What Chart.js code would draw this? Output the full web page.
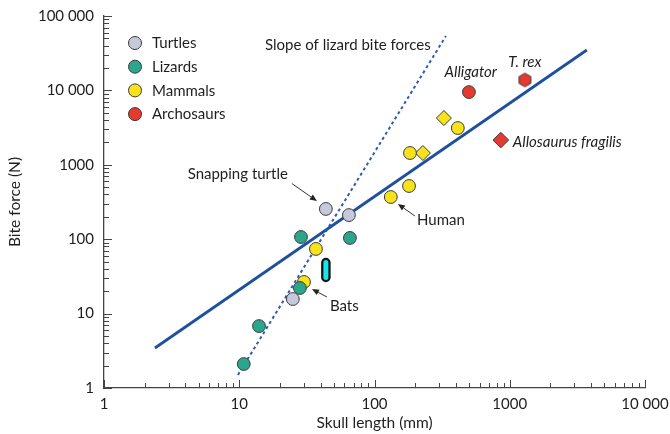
<!DOCTYPE html>
<html>
<head>
<meta charset="utf-8">
<script src="https://cdn.jsdelivr.net/npm/chart.js@4.4.1/dist/chart.umd.min.js"></script>
<style>
  html, body { margin: 0; padding: 0; background: #fff; }
  #wrap { width: 670px; height: 434px; position: relative; }
</style>
</head>
<body>
<div id="wrap"><canvas id="c"></canvas></div>
<script>
// Bite force (N) against skull length (mm), log–log.
const turtleSkull = [43.7, 64.7, 24.9];
const turtleForce = [255, 211, 15.7];

const lizardSkull = [28.6, 65.8, 28.1, 14.0, 10.8];
const lizardForce = [107, 104, 22.1, 6.8, 2.1];

const mammalSkull = [36.9, 30.1, 132, 180, 183, 413];
const mammalForce = [74, 26.6, 369, 519, 1440, 3120];

const mammalDiamondSkull = [228, 326];
const mammalDiamondForce = [1440, 4250];

const alligatorSkull = [499];
const alligatorForce = [9500];

const trexSkull = [1294];
const trexForce = [13800];

const allosaurusSkull = [859];
const allosaurusForce = [2150];

// range of bat bite forces
const batSkull = [43.7, 43.7];
const batForce = [48.6, 30.6];

// overall regression and the steeper lizard slope
const fitSkull = [2.38, 3715];
const fitForce = [3.45, 34900];
const lizardSlopeSkull = [9.78, 337];
const lizardSlopeForce = [1.5, 53800];

const xTickValues = [1, 10, 100, 1000, 10000];
const xTickLabels = ['1', '10', '100', '1000', '10 000'];
const yTickValues = [1, 10, 100, 1000, 10000, 100000];
const yTickLabels = ['1', '10', '100', '1000', '10 000', '100 000'];

const groupNames = ['Turtles', 'Lizards', 'Mammals', 'Archosaurs'];
const groupColors = ['#c6c8dc', '#2ba58b', '#f7e21c', '#e43a2f'];

const FONT = 'Lato, "Open Sans", sans-serif';
const INK = '#1e1e1e';
const EDGE = '#3a3a3a';

const pts = (xs, ys) => xs.map((x, i) => ({ x: x, y: ys[i] }));

// hexagon marker for T. rex
function hexagon(r, fill) {
  const size = Math.ceil(r * 2 + 3);
  const cv = document.createElement('canvas');
  cv.width = size; cv.height = size;
  const g = cv.getContext('2d');
  const c = size / 2;
  g.beginPath();
  for (let k = 0; k < 6; k++) {
    const a = Math.PI / 2 + k * Math.PI / 3;
    const px = c + r * Math.cos(a), py = c - r * Math.sin(a);
    if (k === 0) g.moveTo(px, py); else g.lineTo(px, py);
  }
  g.closePath();
  g.fillStyle = fill; g.fill();
  g.lineWidth = 1; g.strokeStyle = EDGE; g.stroke();
  return cv;
}

function marker(color, style, radius) {
  return {
    backgroundColor: color, borderColor: EDGE, borderWidth: 1,
    pointStyle: style, pointRadius: radius, pointHoverRadius: radius,
    showLine: false
  };
}

const datasets = [
  Object.assign({ label: 'Turtles', data: pts(turtleSkull, turtleForce) }, marker(groupColors[0], 'circle', 6.4)),
  Object.assign({ label: 'Lizards', data: pts(lizardSkull, lizardForce) }, marker(groupColors[1], 'circle', 6.4)),
  Object.assign({ label: 'Mammals', data: pts(mammalSkull, mammalForce) }, marker(groupColors[2], 'circle', 6.4)),
  Object.assign({ label: 'Mammals (diamond)', data: pts(mammalDiamondSkull, mammalDiamondForce) }, marker(groupColors[2], 'rectRot', 7.5)),
  Object.assign({ label: 'Alligator', data: pts(alligatorSkull, alligatorForce) }, marker(groupColors[3], 'circle', 6.4)),
  Object.assign({ label: 'Allosaurus fragilis', data: pts(allosaurusSkull, allosaurusForce) }, marker(groupColors[3], 'rectRot', 7.8)),
  Object.assign({ label: 'T. rex', data: pts(trexSkull, trexForce) }, marker(groupColors[3], hexagon(6.8, groupColors[3]), 7)),
  {
    label: 'Bats (fill)', data: pts(batSkull, batForce), showLine: true,
    borderColor: '#14e6f0', borderWidth: 5, borderCapStyle: 'round', pointRadius: 0
  },
  {
    label: 'Bats', data: pts(batSkull, batForce), showLine: true,
    borderColor: '#111', borderWidth: 9.5, borderCapStyle: 'round', pointRadius: 0
  },
  {
    label: 'Slope of lizard bite forces', data: pts(lizardSlopeSkull, lizardSlopeForce), showLine: true,
    borderColor: '#2a5db0', borderWidth: 2, borderDash: [3, 3], pointRadius: 0
  },
  {
    label: 'All species', data: pts(fitSkull, fitForce), showLine: true,
    borderColor: '#1f4f9f', borderWidth: 2.8, pointRadius: 0
  }
];

// text labels and pointer arrows, placed in data coordinates
const notes = [
  { text: 'Slope of lizard bite forces', x: 15.5, y: 40700, align: 'left', italic: false },
  { text: 'Alligator', x: 515, y: 17700, align: 'center', italic: true },
  { text: 'T. rex', x: 1294, y: 24100, align: 'center', italic: true },
  { text: 'Allosaurus fragilis', x: 1054, y: 2025, align: 'left', italic: true },
  { text: 'Snapping turtle', x: 22.9, y: 752, align: 'right', italic: false },
  { text: 'Human', x: 206, y: 181, align: 'left', italic: false },
  { text: 'Bats', x: 46.8, y: 12.6, align: 'left', italic: false }
];
const pointers = [
  { from: [24.5, 560], to: [37.5, 326] },
  { from: [199, 205], to: [149, 297] },
  { from: [44.5, 16.7], to: [34.5, 21.4] }
];

const decor = {
  id: 'decor',
  afterDraw(chart) {
    const ctx = chart.ctx;
    const xs = chart.scales.x, ys = chart.scales.y;
    const area = chart.chartArea;
    ctx.save();

    // inward tick marks, majors at each decade and minors between
    ctx.strokeStyle = '#444';
    ctx.lineWidth = 1;
    ctx.beginPath();
    for (let d = 0; d < 5; d++) {
      for (let m = 1; m <= 9; m++) {
        const v = m * Math.pow(10, d);
        const len = m === 1 ? 8 : 5;
        const px = Math.round(xs.getPixelForValue(v)) + 0.5;
        ctx.moveTo(px, area.bottom);
        ctx.lineTo(px, area.bottom - len);
      }
    }
    const px10k = Math.round(xs.getPixelForValue(10000)) + 0.5;
    ctx.moveTo(px10k, area.bottom); ctx.lineTo(px10k, area.bottom - 8);
    for (let d = 0; d < 6; d++) {
      for (let m = 1; m <= 9; m++) {
        const v = m * Math.pow(10, d);
        if (v > 100000) break;
        const len = m === 1 ? 8 : 5;
        const py = Math.round(ys.getPixelForValue(v)) + 0.5;
        ctx.moveTo(area.left, py);
        ctx.lineTo(area.left + len, py);
      }
    }
    const py100k = Math.round(ys.getPixelForValue(100000)) + 0.5;
    ctx.moveTo(area.left, py100k); ctx.lineTo(area.left + 8, py100k);
    ctx.stroke();

    // annotation text
    ctx.fillStyle = INK;
    ctx.textBaseline = 'middle';
    notes.forEach(n => {
      ctx.font = (n.italic ? 'italic ' : '') + '15px ' + FONT;
      ctx.textAlign = n.align;
      ctx.fillText(n.text, xs.getPixelForValue(n.x), ys.getPixelForValue(n.y));
    });

    // pointer arrows
    ctx.strokeStyle = '#333';
    ctx.fillStyle = '#222';
    ctx.lineWidth = 1;
    pointers.forEach(p => {
      const x1 = xs.getPixelForValue(p.from[0]), y1 = ys.getPixelForValue(p.from[1]);
      const x2 = xs.getPixelForValue(p.to[0]), y2 = ys.getPixelForValue(p.to[1]);
      const a = Math.atan2(y2 - y1, x2 - x1);
      const head = 7, half = 3;
      const bx = x2 - head * Math.cos(a), by = y2 - head * Math.sin(a);
      ctx.beginPath(); ctx.moveTo(x1, y1); ctx.lineTo(bx, by); ctx.stroke();
      ctx.beginPath();
      ctx.moveTo(x2, y2);
      ctx.lineTo(bx + half * Math.sin(a), by - half * Math.cos(a));
      ctx.lineTo(bx - half * Math.sin(a), by + half * Math.cos(a));
      ctx.closePath(); ctx.fill();
    });

    // group legend, top left inside the plot
    const lx = area.left + 31, ly = area.top + 27, step = 23.7;
    groupNames.forEach((name, i) => {
      const cy = ly + i * step;
      ctx.beginPath();
      ctx.arc(lx, cy, 6.5, 0, Math.PI * 2);
      ctx.fillStyle = groupColors[i]; ctx.fill();
      ctx.strokeStyle = EDGE; ctx.lineWidth = 1; ctx.stroke();
      ctx.fillStyle = INK;
      ctx.font = '15px ' + FONT;
      ctx.textAlign = 'left';
      ctx.textBaseline = 'middle';
      ctx.fillText(name, lx + 17, cy + 0.5);
    });

    ctx.restore();
  }
};

function logAxis(values, labels, titleText, fixSize) {
  return {
    type: 'logarithmic',
    min: values[0],
    max: values[values.length - 1],
    afterBuildTicks: s => { s.ticks = values.map(v => ({ value: v, major: true })); },
    afterFit: fixSize,
    grid: { display: false, drawTicks: false },
    border: { display: true, color: '#444', width: 1.3 },
    ticks: {
      autoSkip: false,
      maxRotation: 0,
      color: INK,
      font: { family: FONT, size: 15 },
      callback: (v) => { const i = values.indexOf(v); return i >= 0 ? labels[i] : ''; }
    },
    title: {
      display: true, text: titleText, color: INK,
      font: { family: FONT, size: 15.5 }
    }
  };
}

// fixed axis band sizes; label overhang is absorbed by the layout padding
const xAxis = logAxis(xTickValues, xTickLabels, 'Skull length (mm)', s => {
  s.height = 46; s.paddingLeft = 0; s.paddingRight = 0;
});
xAxis.ticks.padding = 7;
xAxis.title.padding = { top: 0, bottom: 2 };
const yAxis = logAxis(yTickValues, yTickLabels, 'Bite force (N)', s => {
  s.width = 104; s.paddingTop = 0; s.paddingBottom = 0;
});
yAxis.ticks.padding = 10;
yAxis.title.padding = { top: 6, bottom: 0 };

new Chart(document.getElementById('c'), {
  type: 'scatter',
  data: { datasets: datasets },
  options: {
    responsive: true,
    maintainAspectRatio: false,
    animation: false,
    layout: { padding: { top: 16, right: 25, left: 0, bottom: 0 } },
    plugins: { legend: { display: false }, tooltip: { enabled: false } },
    scales: { x: xAxis, y: yAxis }
  },
  plugins: [decor]
});
</script>
</body>
</html>
